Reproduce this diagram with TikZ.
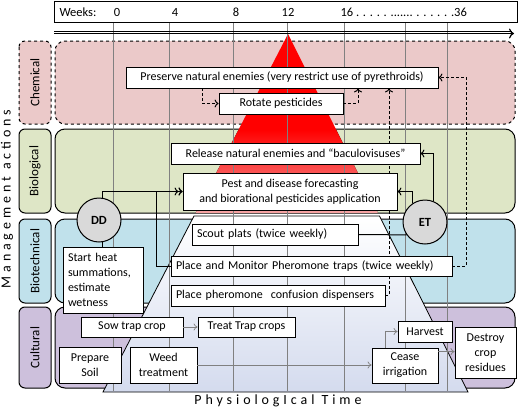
\documentclass[tikz,border=0pt]{standalone}
\usepackage{fontspec}
\setmainfont{Carlito}
\usetikzlibrary{arrows.meta}
\pgfdeclarelayer{back}
\pgfdeclarelayer{mid}
\pgfsetlayers{back,mid,main}
\definecolor{chemfill}{RGB}{235,201,201}
\definecolor{biofill}{RGB}{222,230,198}
\definecolor{techfill}{RGB}{192,225,235}
\definecolor{cultfill}{RGB}{205,192,220}
\definecolor{circfill}{RGB}{217,217,217}
\definecolor{basefill}{RGB}{212,219,238}
\definecolor{pyrpink}{RGB}{246,165,165}
\tikzset{
    rowbox/.style={draw, line width=1pt, rounded corners=10pt, minimum width=460pt},
    rowlabel/.style={draw, line width=1pt, rounded corners=6pt, minimum height=32pt, rotate=90, font=\fontsize{13}{15}\selectfont},
    actbox/.style={draw, fill=white, line width=0.8pt, inner sep=3pt, align=center, font=\fontsize{12}{15}\selectfont},
    leftbox/.style={actbox, inner xsep=5pt, align=left},
    link/.style={line width=1pt, -{To[length=4pt,width=8pt]}},
    dashlink/.style={link, dash pattern=on 3pt off 2pt},
    softlink/.style={draw=gray, line width=0.7pt, -{To[length=4pt,width=7pt]}},
    gauge/.style={circle, draw, fill=circfill, line width=1pt, minimum size=44pt, font=\bfseries\fontsize{12.5}{14}\selectfont}
}
\begin{document}
\begin{tikzpicture}[x=1pt,y=-1pt]
    \useasboundingbox (0,0) rectangle (520,410);
    \begin{pgfonlayer}{back}
    % rows of actions
    \foreach \n/\t/\y/\h/\c/\s in {chem/Chemical/82.5/83/chemfill/dashed,bio/Biological/171/84/biofill/solid,tech/Biotechnical/261/84/techfill/solid,cult/Cultural/347.5/81/cultfill/solid}{
        \node[rowbox, fill=\c, \s, minimum height=\h pt] (\n) at (285,\y) {};
        \node[rowlabel, fill=\c, \s, minimum width=\h pt] (\n lab) at (35,\y) {\t};
    }
    % pyramid
    \fill[red] (288,34) -- (336.3,130) -- (238.4,130) -- cycle;
    \fill[top color=red, bottom color=pyrpink] (238.4,130) -- (336.3,130) -- (378,213) -- (195.5,213) -- cycle;
    \draw[line width=0.8pt, top color=white, bottom color=basefill] (194,216) -- (379.5,216) -- (468,392) -- (103,392) -- cycle;
    % weeks
    \foreach \x in {113,169,233,287,344,405,447}{
        \draw[gray, line width=0.6pt] (\x,22) -- (\x,391);
    }
    \end{pgfonlayer}
    \node[rotate=90, font=\fontsize{14}{16}\selectfont] (mgmt) at (7,199) {\addfontfeature{LetterSpace=28}Management actions};
    \node[draw, fill=white, line width=0.8pt, minimum width=463pt, minimum height=21pt] (weeks) at (285.5,11.5) {};
    \foreach \x/\n/\l in {78/wk/Weeks:,117/w0/0,175/w4/4,236/w8/8,288/w12/12}{
        \node[font=\fontsize{12.5}{14}\selectfont] (\n) at (\x,12) {\l};
    }
    \node[anchor=west, font=\fontsize{12.5}{14}\selectfont] (w36) at (337,12) {16 . . . . . ....... . . . . . .36};
    \draw[line width=0.7pt] (54,31) -- (512,31);
    \draw[line width=1.2pt, -{To[length=5pt,width=10pt]}] (54,33.5) -- (514,33.5);
    % boxes
    \foreach \n/\x/\y/\w/\h/\l in {
        preserve/282/77.5/312/21/{Preserve natural enemies (very restrict use of pyrethroids)},
        rotate/281/103.5/124/21/{Rotate pesticides},
        release/295.5/153.5/249/21/{Release natural enemies and “baculovisuses”},
        pest/290/191.5/214/37/{Pest and disease forecasting\\and biorational pesticides application},
        sow/132/327/102/20/{Sow trap crop},
        treat/246.5/327/97/20/{Treat Trap crops},
        prepare/90/365/62/36/{Prepare\\Soil},
        weed/163.5/365/67/36/{Weed\\treatment},
        cease/405/365.5/66/35/{Cease\\irrigation},
        harvest/425/331.5/54/21/{Harvest},
        destroy/485.5/352.5/61/51/{Destroy\\crop\\residues}}{
        \node[actbox, minimum width=\w pt, minimum height=\h pt] (\n) at (\x,\y) {\l};
    }
    \foreach \n/\x/\y/\w/\h/\l in {
        scout/275/234.5/156/21/{Scout plats (twice weekly)},
        monitor/311.5/266/271/20/{Place and Monitor Pheromone traps (twice weekly)},
        confusion/278/295.5/204/21/{Place pheromone \ confusion dispensers},
        heat/103/280/70/66/{Start heat\\summations,\\estimate\\wetness}}{
        \node[leftbox, text width=\w pt, minimum height=\h pt] (\n) at (\x,\y) {\l};
    }
    % dashed links
    \begin{pgfonlayer}{mid}
    \draw[dashlink] ([xshift=-80pt]preserve.south) |- (rotate.west);
    \draw[dashlink] (rotate.east) -| ([xshift=76pt]preserve.south);
    \draw[dashlink] (confusion.east) -| ([xshift=107pt]preserve.south);
    \draw[dashlink] (monitor.east) -- ++(14,0) |- (preserve.east);
    \end{pgfonlayer}
    \node[gauge] (dd) at (99,220) {DD};
    \node[gauge] (et) at (425,222) {ET};
    % links
    \draw[link] (monitor.west) -| ([xshift=-26pt]pest.west) -- (pest.west);
    \draw[link, -{To[length=4pt,width=8pt]To[length=4pt,width=8pt]}] (dd.80) |- (pest.west);
    \draw[line width=1pt] (dd.280) -- (dd.280 |- heat.north);
    \draw[link] (et.69) |- (release.east);
    \draw[link] (et.123) |- (pest.east);
    \draw[line width=1pt] (scout.east) -- (et.215);
    \draw[softlink] (sow) -- (treat);
    \draw[softlink] (weed.east) -- (weed.east -| cease.west);
    \draw[softlink] ([xshift=-20pt]cease.north) |- (harvest.west);
    \draw[softlink] ([yshift=-4pt]cease.north east) -- ([yshift=-4pt]cease.north east -| destroy.west);
    \node[font=\fontsize{14}{16}\selectfont] (ptime) at (278,401) {\addfontfeature{LetterSpace=28}PhysiologIcal Time};
\end{tikzpicture}
\end{document}
